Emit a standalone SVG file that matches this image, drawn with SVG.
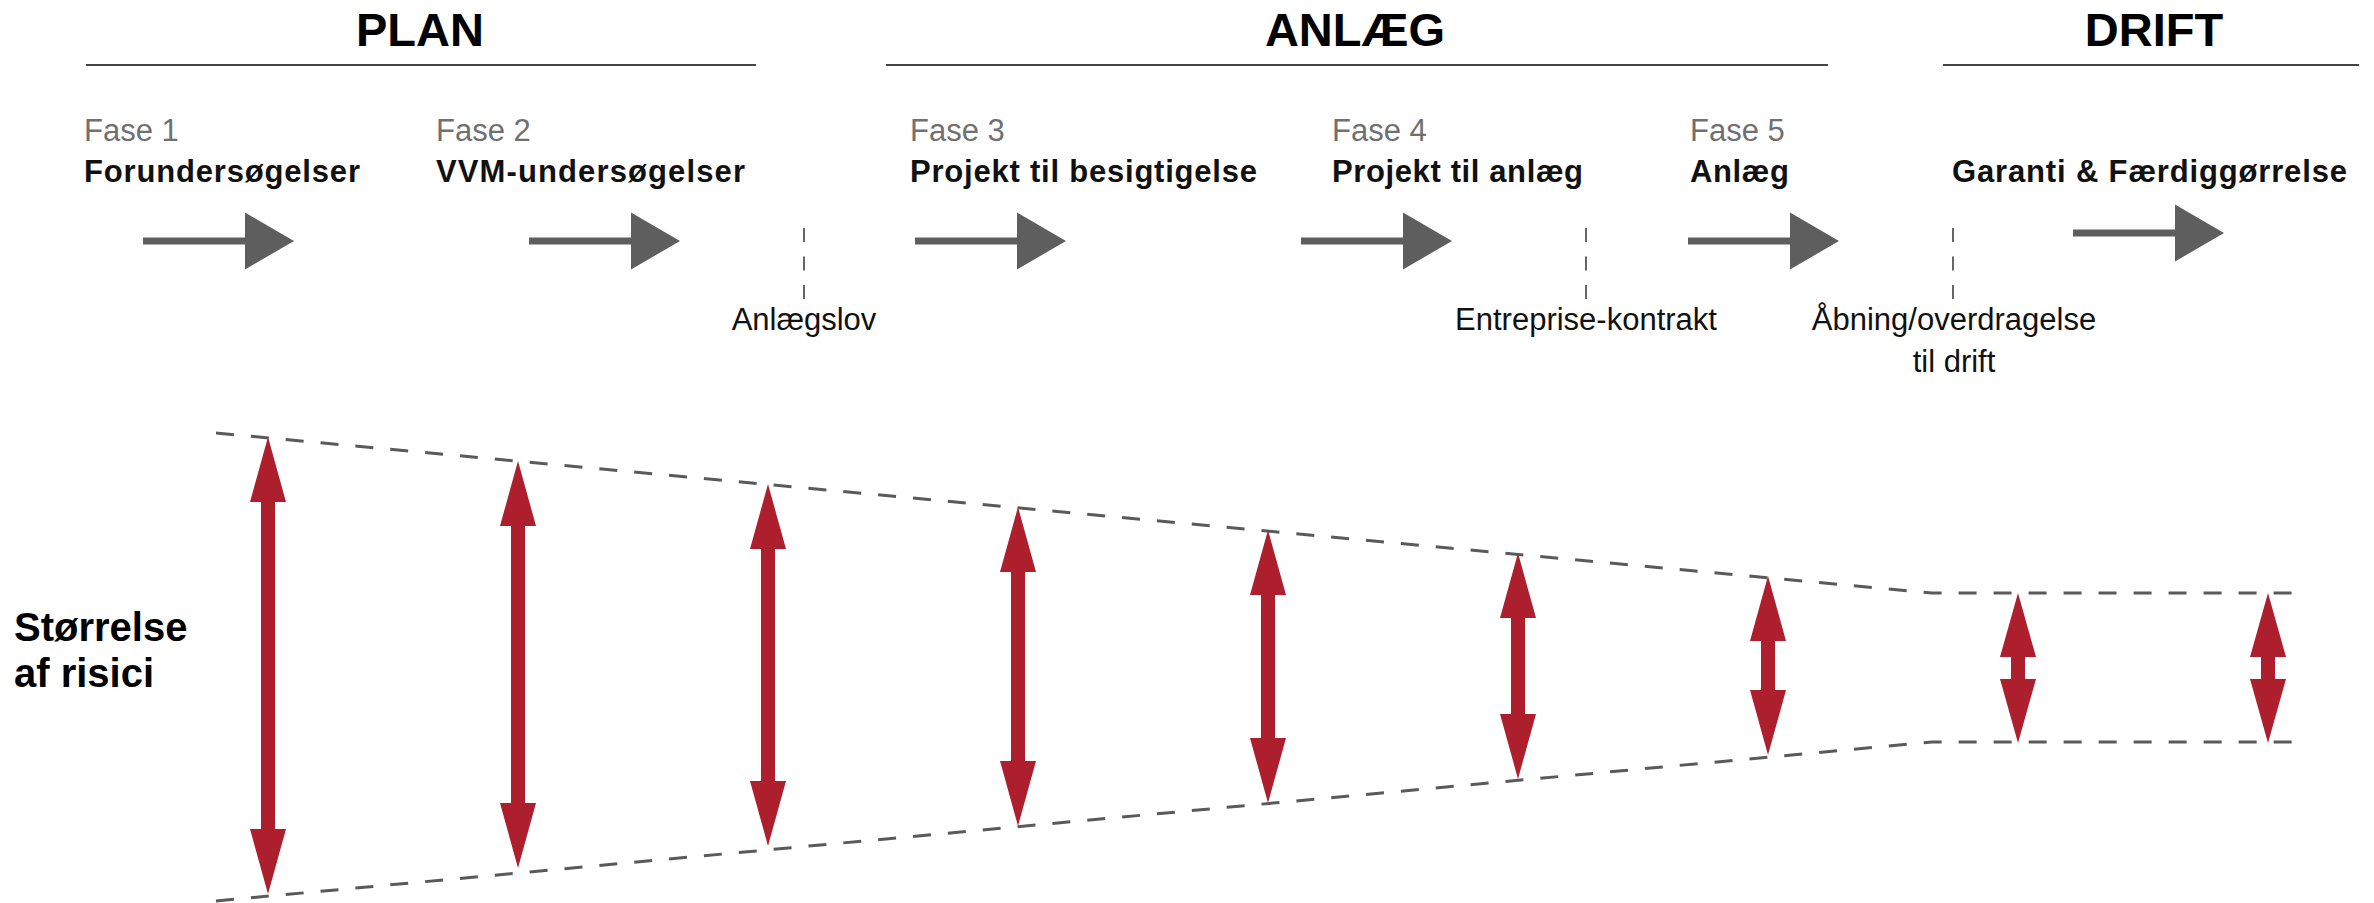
<svg xmlns="http://www.w3.org/2000/svg" xmlns:xlink="http://www.w3.org/1999/xlink" width="2374" height="903" viewBox="0 0 2374 903">
<style>
text{font-family:"Liberation Sans",Arial,Helvetica,sans-serif}
.hdr{font-size:47px;font-weight:bold;fill:#000;text-anchor:middle}
.hline{stroke:#444;stroke-width:2;fill:none}
.fase{font-size:31px;fill:#707070}
.ttl{font-size:31px;font-weight:bold;fill:#111}
.lbl{font-size:31px;fill:#111;text-anchor:middle}
.mark{stroke:#666;stroke-width:2;stroke-dasharray:14 14.5;fill:none}
.env{stroke:#5a5a5a;stroke-width:3;stroke-dasharray:18 17;fill:none}
.risk{fill:#AE1F2E}
.garrow{fill:#5e5e5e}
.side{font-size:40px;font-weight:bold;fill:#000}
</style>
<defs>
<path id="ga" class="garrow" d="M0,-3.5 H102 V-28.5 L151,0 L102,28.5 V3.5 H0 Z"/>
</defs>
<rect width="2374" height="903" fill="#fff"/>

<g id="header-plan">
<text class="hdr" x="420" y="46">PLAN</text>
<line class="hline" x1="86" y1="65" x2="756" y2="65"/>
</g>
<g id="header-anlaeg">
<text class="hdr" x="1355" y="46">ANLÆG</text>
<line class="hline" x1="886" y1="65" x2="1828" y2="65"/>
</g>
<g id="header-drift">
<text class="hdr" x="2154" y="46">DRIFT</text>
<line class="hline" x1="1943" y1="65" x2="2359" y2="65"/>
</g>

<g id="fase1">
<text class="fase" x="84" y="141">Fase 1</text>
<text class="ttl" x="84" y="182" textLength="276" lengthAdjust="spacing">Forundersøgelser</text>
<use xlink:href="#ga" href="#ga" x="143" y="241"/>
</g>
<g id="fase2">
<text class="fase" x="436" y="141">Fase 2</text>
<text class="ttl" x="436" y="182" textLength="309" lengthAdjust="spacing">VVM-undersøgelser</text>
<use xlink:href="#ga" href="#ga" x="529" y="241"/>
</g>
<g id="fase3">
<text class="fase" x="910" y="141">Fase 3</text>
<text class="ttl" x="910" y="182" textLength="347" lengthAdjust="spacing">Projekt til besigtigelse</text>
<use xlink:href="#ga" href="#ga" x="915" y="241"/>
</g>
<g id="fase4">
<text class="fase" x="1332" y="141">Fase 4</text>
<text class="ttl" x="1332" y="182" textLength="251" lengthAdjust="spacing">Projekt til anlæg</text>
<use xlink:href="#ga" href="#ga" x="1301" y="241"/>
</g>
<g id="fase5">
<text class="fase" x="1690" y="141">Fase 5</text>
<text class="ttl" x="1690" y="182" textLength="99" lengthAdjust="spacing">Anlæg</text>
<use xlink:href="#ga" href="#ga" x="1688" y="241"/>
</g>
<g id="drift-phase">
<text class="ttl" x="1952" y="182" textLength="395" lengthAdjust="spacing">Garanti &amp; Færdiggørrelse</text>
<use xlink:href="#ga" href="#ga" x="2073" y="233"/>
</g>

<g id="milestone-anlaegslov">
<line class="mark" x1="804" y1="228" x2="804" y2="300"/>
<text class="lbl" x="804" y="330">Anlægslov</text>
</g>
<g id="milestone-entreprise">
<line class="mark" x1="1586" y1="228" x2="1586" y2="300"/>
<text class="lbl" x="1586" y="330">Entreprise-kontrakt</text>
</g>
<g id="milestone-aabning">
<line class="mark" x1="1953" y1="228" x2="1953" y2="300"/>
<text class="lbl" x="1954" y="330">Åbning/overdragelse</text>
<text class="lbl" x="1954" y="372">til drift</text>
</g>

<g id="side-label">
<text class="side" x="14" y="641">Størrelse</text>
<text class="side" x="14" y="687">af risici</text>
</g>

<g id="connectors">
<polyline class="env" points="216,433 1932,593 2305,593"/>
<polyline class="env" points="216,901 1932,742 2305,742"/>
</g>

<g id="risk-arrows">
<polygon class="risk" points="268,437 286,502 275,502 275,829 286,829 268,894 250,829 261,829 261,502 250,502"/>
<polygon class="risk" points="518,461 536,526 525,526 525,803 536,803 518,868 500,803 511,803 511,526 500,526"/>
<polygon class="risk" points="768,484 786,549 775,549 775,781 786,781 768,846 750,781 761,781 761,549 750,549"/>
<polygon class="risk" points="1018,507 1036,572 1025,572 1025,761 1036,761 1018,826 1000,761 1011,761 1011,572 1000,572"/>
<polygon class="risk" points="1268,530 1286,595 1275,595 1275,738 1286,738 1268,803 1250,738 1261,738 1261,595 1250,595"/>
<polygon class="risk" points="1518,553 1536,618 1525,618 1525,714 1536,714 1518,779 1500,714 1511,714 1511,618 1500,618"/>
<polygon class="risk" points="1768,576 1786,641 1775,641 1775,690 1786,690 1768,755 1750,690 1761,690 1761,641 1750,641"/>
<polygon class="risk" points="2018,593 2036,657 2025,657 2025,679 2036,679 2018,743 2000,679 2011,679 2011,657 2000,657"/>
<polygon class="risk" points="2268,593 2286,657 2275,657 2275,679 2286,679 2268,743 2250,679 2261,679 2261,657 2250,657"/>
</g>
</svg>
